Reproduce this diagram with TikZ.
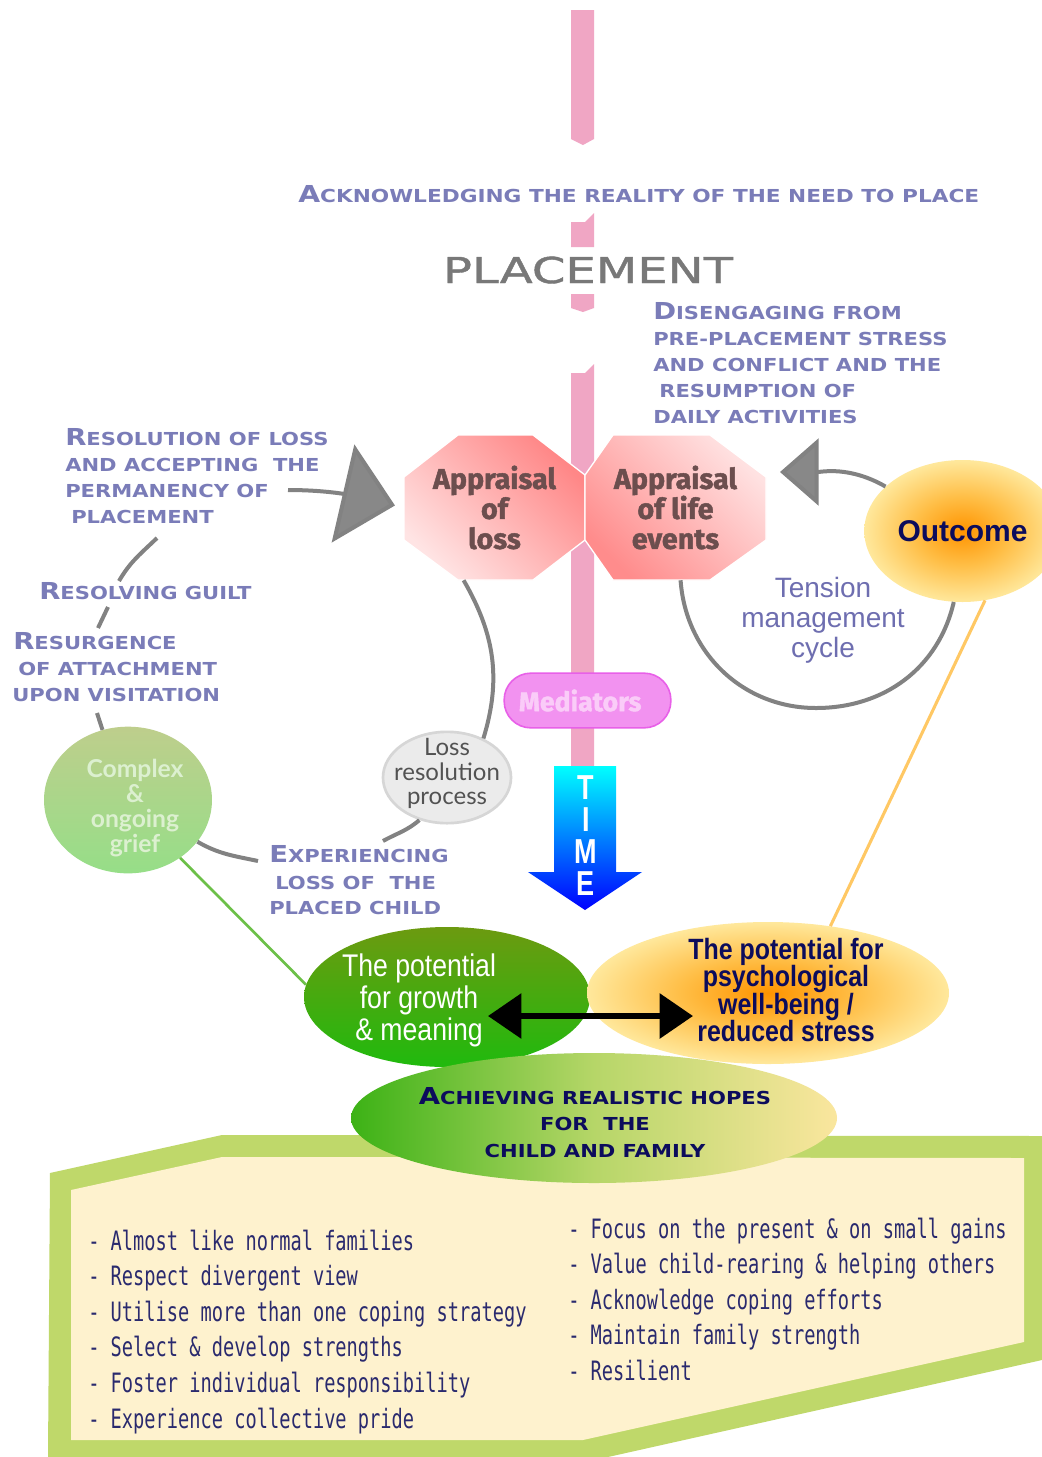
\documentclass[tikz,border=0pt]{standalone}
\usepackage{fontspec}
\usetikzlibrary{arrows.meta,shapes.geometric}

% Fonts
\newfontfamily\capsfont{DejaVu Sans}[FakeStretch=1.18]
\newfontfamily\placefont{DejaVu Sans}[FakeStretch=1.35,FakeBold=1.2]
\newfontfamily\octfont{Fira Sans}[FakeBold=1.6]
\newfontfamily\latofont{Lato}
\newfontfamily\arialfont{Liberation Sans}
\newfontfamily\narrowfont{Liberation Sans}[FakeStretch=0.85]
\newfontfamily\timefont{Liberation Sans}[FakeStretch=0.78]
\newfontfamily\listfont{DejaVu Sans Mono}[FakeStretch=0.7]

% Initial capital of a small-caps heading
\newcommand\Ini[1]{{\fontsize{17.5}{19}\selectfont#1}}
% Keep the baseline distance fixed in tight multi-line texts
\newcommand\tightlines{\lineskiplimit=-30pt\relax}

% Colours
\definecolor{lav}{RGB}{122,124,184}
\definecolor{tens}{RGB}{110,110,176}
\definecolor{navy}{RGB}{12,12,92}
\definecolor{listnavy}{RGB}{42,42,110}
\definecolor{pinkbar}{RGB}{240,166,196}
\definecolor{arcgray}{RGB}{130,130,130}
\definecolor{tipgray}{RGB}{136,136,136}
\definecolor{octtext}{RGB}{108,78,78}
\definecolor{framegreen}{RGB}{191,216,106}
\definecolor{cream}{RGB}{254,242,206}
\definecolor{ogA}{RGB}{255,148,0}
\definecolor{ogB}{RGB}{255,190,70}
\definecolor{ogC}{RGB}{255,232,156}
\definecolor{octLdeep}{RGB}{255,135,135}
\definecolor{octLpale}{RGB}{255,228,228}
\definecolor{octRpale}{RGB}{255,226,226}
\definecolor{octRdeep}{RGB}{255,140,140}
\definecolor{medfill}{RGB}{242,146,240}
\definecolor{meddraw}{RGB}{232,96,232}
\definecolor{medtext}{RGB}{250,204,248}
\definecolor{timetop}{RGB}{0,255,255}
\definecolor{timebot}{RGB}{0,0,255}
\definecolor{lossfill}{RGB}{235,235,235}
\definecolor{lossdraw}{RGB}{214,214,214}
\definecolor{grieftop}{RGB}{190,206,140}
\definecolor{griefbot}{RGB}{150,222,136}
\definecolor{grieftext}{RGB}{220,240,208}
\definecolor{growtop}{RGB}{108,154,16}
\definecolor{growbot}{RGB}{32,186,14}
\definecolor{greenline}{RGB}{108,192,72}
\definecolor{orangeline}{RGB}{255,200,100}
\definecolor{achL}{RGB}{60,178,22}
\definecolor{achM}{RGB}{182,214,104}
\definecolor{achR}{RGB}{250,230,158}
\pgfdeclareradialshading{orangeglow}{\pgfpoint{0bp}{0bp}}{color(0bp)=(ogA); color(12bp)=(ogB); color(25bp)=(ogC); color(50bp)=(ogC)}

\tikzset{
  lbl/.style={font=\capsfont\bfseries\fontsize{13.4}{16}\selectfont, text=lav, inner sep=0pt, anchor=base west},
  arcline/.style={draw=arcgray, line width=3pt},
  octnode/.style={rectangle, minimum width=135.75pt, minimum height=108.75pt, inner sep=0pt, align=center,
    font=\octfont\bfseries\fontsize{21.5}{22.5}\selectfont, text=octtext},
  listtxt/.style={font=\listfont\fontsize{20}{24}\selectfont, text=listnavy, inner sep=0pt, anchor=base west},
}

\begin{document}
\begin{tikzpicture}[x=0.75pt,y=0.75pt]
\useasboundingbox (0,0) rectangle (1042,-1457);
\fill[white] (0,0) rectangle (1042,-1457);

% ---- bottom frame ----
\fill[framegreen] (50,-1173) -- (222,-1135) -- (1042,-1136) -- (1042,-1360) -- (608,-1457) -- (48,-1457) -- cycle;
\fill[cream] (71,-1190) -- (222,-1157) -- (1024,-1158) -- (1024,-1342) -- (583,-1440) -- (71,-1440) -- cycle;

% ---- vertical time bar ----
\fill[pinkbar] (571,-10) -- (594,-10) -- (594,-139) -- (583,-145) -- (571,-139) -- cycle;
\fill[pinkbar] (571,-222) -- (585,-222) -- (594,-213) -- (594,-247) -- (571,-247) -- cycle;
\fill[pinkbar] (571,-294) -- (594,-294) -- (594,-308) -- (583,-312) -- (571,-308) -- cycle;
\fill[pinkbar] (571,-373) -- (585,-373) -- (594,-364) -- (594,-770) -- (571,-770) -- cycle;

% ---- headings ----
\node[lbl] (ack) at (298,-202) {\scalebox{1.027}[1]{\Ini{A}CKNOWLEDGING THE REALITY OF THE NEED TO PLACE}};
\node[font=\placefont\fontsize{26.7}{28}\selectfont, text=black!53, inner sep=0pt, anchor=base] (placement) at (588,-283) {PLACEMENT};

\node[lbl] (dis1) at (653,-319.5) {\Ini{D}ISENGAGING FROM};
\node[lbl] (dis2) at (653,-345.5) {PRE-PLACEMENT STRESS};
\node[lbl] (dis3) at (653,-371.5) {AND CONFLICT AND THE};
\node[lbl] (dis4) at (659,-397.5) {RESUMPTION OF};
\node[lbl] (dis5) at (653,-423.5) {DAILY ACTIVITIES};

\node[lbl] (res1) at (65,-445.5) {\Ini{R}ESOLUTION OF LOSS};
\node[lbl] (res2) at (65,-471.5) {AND ACCEPTING~ THE};
\node[lbl] (res3) at (65,-497.5) {PERMANENCY OF};
\node[lbl] (res4) at (71,-523.5) {PLACEMENT};

\node[lbl] (guilt) at (39,-599.5) {\Ini{R}ESOLVING GUILT};

\node[lbl] (resu1) at (13,-649.5) {\Ini{R}ESURGENCE};
\node[lbl] (resu2) at (18,-675.5) {OF ATTACHMENT};
\node[lbl] (resu3) at (12,-701.5) {UPON VISITATION};

\node[lbl] (exp1) at (269,-862.5) {\Ini{E}XPERIENCING};
\node[lbl] (exp2) at (275,-889.5) {LOSS OF~ THE};
\node[lbl] (exp3) at (269,-914.5) {PLACED CHILD};

% ---- appraisal octagons ----
\path[draw=white, line width=1pt, top color=octLdeep, bottom color=octLpale, shading angle=-45]
  (404,-477) -- (458,-435) -- (533,-435) -- (585,-475) -- (585,-540) -- (533,-580) -- (458,-580) -- (404,-540) -- cycle;
\path[draw=white, line width=1pt, top color=octRpale, bottom color=octRdeep, shading angle=-45]
  (585,-475) -- (613,-435) -- (710,-435) -- (766,-477) -- (766,-540) -- (710,-580) -- (613,-580) -- (585,-540) -- cycle;
\node[octnode] (apploss) at (494.5,-507.5) {Appraisal\\of\\loss};
\node[octnode] (applife) at (675.5,-507.5) {Appraisal\\of life\\events\hspace*{0pt}};

% ---- mediators and time arrow ----
\node[rectangle, rounded corners=20pt, minimum width=125pt, minimum height=41pt,
  fill=medfill, draw=meddraw, line width=1.2pt,
  font=\octfont\bfseries\fontsize{20}{22}\selectfont, text=medtext]
  (med) at (587.5,-700.5) {Mediators\hspace*{11pt}};

\path[top color=timetop, bottom color=timebot]
  (554,-766) -- (616,-766) -- (616,-872) -- (642,-872) -- (585,-910) -- (528,-872) -- (554,-872) -- cycle;
\node[align=center, inner sep=0pt, text=white, font={\timefont\bfseries\fontsize{26}{24}\selectfont\tightlines}]
  (time) at (586,-835.6) {T\\I\\M\\E};

% ---- loss cycle ----
\node[ellipse, minimum width=96pt, minimum height=68.5pt, fill=lossfill, draw=lossdraw, line width=2pt]
  (lossres) at (447,-777.5) {};
\node[align=center, inner sep=0pt, text=black!68, font={\latofont\fontsize{18}{18.4}\selectfont\tightlines}]
  (losstxt) at (447,-773.7) {Loss\\resolution\\process};

\node[ellipse, minimum width=126pt, minimum height=110pt, top color=grieftop, bottom color=griefbot]
  (grief) at (128,-800) {};
\node[align=center, inner sep=0pt, text=grieftext,
  font={\latofont\bfseries\fontsize{18.5}{18.75}\selectfont\tightlines}]
  (grieftxt) at (135,-808) {Complex\\\&\\ongoing\\grief};

\coordinate (cb) at (383,-841);
\coordinate (cc) at (258,-861);
\coordinate (cd) at (97,-713);
\coordinate (ce1) at (98,-628);
\coordinate (ce2) at (108,-607);
\coordinate (cf1) at (119,-581);
\coordinate (cf2) at (157,-538);
\coordinate (cg) at (288,-490);

\draw[arcline] (apploss.247) to[out=-60,in=73] (lossres.47);
\draw[arcline] (lossres.237) to[out=221,in=29] (cb);
\draw[arcline] (cc) to[out=168,in=-30] (grief.-31);
\draw[arcline] (grief.110) -- (cd);
\draw[arcline] (ce1) -- (ce2);
\draw[arcline] (cf1) to[out=60,in=224] (cf2);
\draw[arcline, -{Triangle[length=40pt,width=75pt,fill=tipgray]}, shorten >=6.75pt]
  (cg) to[out=0,in=167] (apploss.west);

% ---- tension management cycle ----
\node[ellipse, minimum width=119.25pt, minimum height=106.5pt, shade, shading=orangeglow,
  font=\arialfont\bfseries\fontsize{22.5}{24}\selectfont, text=navy] (outcome) at (962.5,-531) {Outcome};
\node[align=center, inner sep=0pt, text=tens, font={\arialfont\fontsize{21}{22.5}\selectfont\tightlines}]
  (tension) at (823,-620) {Tension\\management\\cycle};

\coordinate (tbot) at (816,-708);
\coordinate (tipR) at (780,-472);
\draw[arcline] (applife.-86) to[out=-86,in=180] (tbot) to[out=0,in=-103] (outcome.-97);
\draw[arcline, -{Triangle[length=29pt,width=50pt,fill=tipgray]}] (outcome.150) to[out=150,in=0] (tipR);

% ---- potentials ----
\node[ellipse, minimum width=214.5pt, minimum height=105pt, top color=growtop, bottom color=growbot]
  (growth) at (447,-997) {};
\node[ellipse, minimum width=271.5pt, minimum height=106.5pt, shade, shading=orangeglow]
  (wellb) at (768,-993) {};

\draw[draw=greenline, line width=2pt] (grief.-48) -- (growth.175);
\draw[draw=orangeline, line width=2.3pt] (outcome.-72) -- (wellb.47);

\node[align=center, inner sep=0pt, text=white, font={\narrowfont\fontsize{23.5}{24}\selectfont\tightlines}]
  (growthtxt) at (419,-1000) {The potential\\for growth\\\& meaning};
\node[align=center, inner sep=0pt, text=navy, font={\narrowfont\bfseries\fontsize{22}{20.5}\selectfont\tightlines}]
  (wellbtxt) at (786,-990) {The potential for\\psychological\\well-being /\\reduced stress};

\coordinate (dal) at (488,-1016);
\coordinate (dar) at (693,-1016);
\draw[line width=4.5pt, {Triangle[length=25pt,width=33pt]}-{Triangle[length=25pt,width=33pt]}] (dal) -- (dar);

% ---- realistic hopes ----
\node[ellipse, minimum width=364.5pt, minimum height=97.5pt, left color=achL, right color=achR, middle color=achM]
  (achieve) at (594,-1118) {};
\node[align=center, inner sep=0pt, text=navy, font={\capsfont\bfseries\fontsize{13.4}{19.9}\selectfont\tightlines}]
  (achtxt) at (595,-1122.5) {\Ini{A}CHIEVING REALISTIC HOPES\\FOR~ THE\\CHILD AND FAMILY};

% ---- lists ----
\foreach \t [count=\i] in {Almost like normal families,Respect divergent view,Utilise more than one coping strategy,Select \& develop strengths,Foster individual responsibility,Experience collective pride}
  \node[listtxt] (left\i) at (88,{-1250-(\i-1)*35.6}) {- \t};
\foreach \t [count=\i] in {Focus on the present \& on small gains,Value child-rearing \& helping others,Acknowledge coping efforts,Maintain family strength,Resilient}
  \node[listtxt] (right\i) at (568,{-1238-(\i-1)*35.6}) {- \t};

\end{tikzpicture}
\end{document}
